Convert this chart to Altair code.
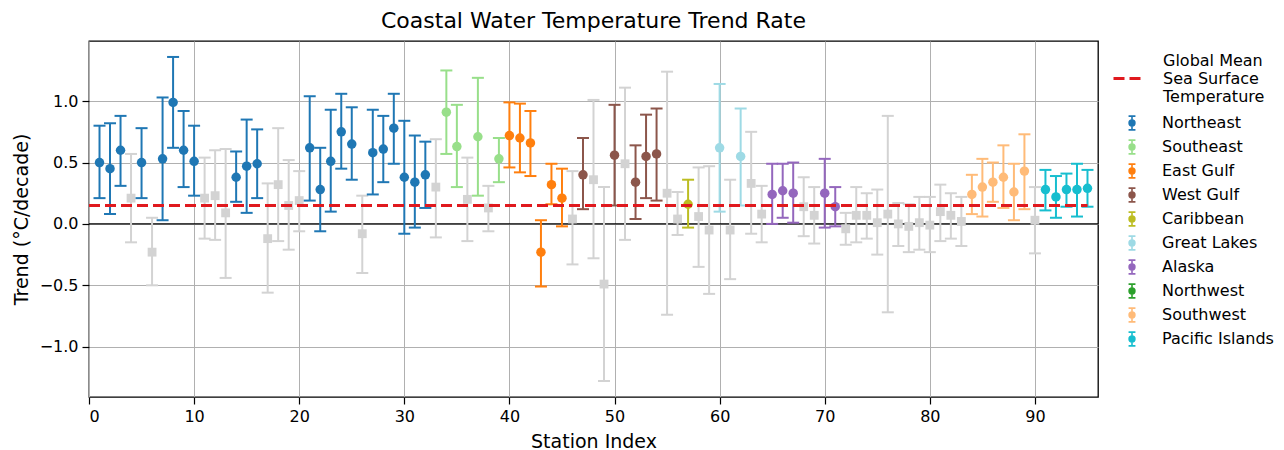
import altair as alt
import pandas as pd

# ---- data ----
stations = list(range(1, 96))
trend = [0.50, 0.45, 0.60, 0.21, 0.50, -0.23, 0.53, 0.99, 0.60, 0.51,
         0.21, 0.23, 0.09, 0.38, 0.47, 0.49, -0.12, 0.32, 0.15, 0.19,
         0.62, 0.28, 0.51, 0.75, 0.65, -0.08, 0.58, 0.61, 0.78, 0.38,
         0.34, 0.40, 0.30, 0.91, 0.63, 0.20, 0.71, 0.13, 0.53, 0.72,
         0.70, 0.66, -0.23, 0.32, 0.21, 0.04, 0.40, 0.36, -0.49, 0.56,
         0.49, 0.34, 0.55, 0.57, 0.25, 0.04, 0.16, 0.06, -0.05, 0.62,
         -0.05, 0.55, 0.33, 0.08, 0.24, 0.27, 0.25, 0.14, 0.07, 0.25,
         0.14, -0.04, 0.07, 0.07, 0.01, 0.08, 0.00, -0.02, 0.01, -0.01,
         0.10, 0.07, 0.02, 0.24, 0.30, 0.34, 0.38, 0.26, 0.43, 0.03,
         0.28, 0.22, 0.28, 0.28, 0.29]
lower = [0.21, 0.08, 0.31, -0.15, 0.21, -0.50, 0.03, 0.62, 0.30, 0.23,
         -0.12, -0.13, -0.44, 0.18, 0.09, 0.21, -0.56, -0.14, -0.21, -0.06,
         0.19, -0.06, 0.10, 0.45, 0.36, -0.40, 0.24, 0.34, 0.49, -0.08,
         -0.03, 0.13, -0.11, 0.57, 0.30, -0.14, 0.23, -0.06, 0.34, 0.46,
         0.42, 0.39, -0.51, 0.16, -0.02, -0.33, 0.12, -0.28, -1.28, 0.15,
         -0.13, 0.04, 0.21, 0.19, -0.74, -0.09, -0.03, -0.35, -0.57, 0.10,
         -0.45, 0.15, -0.08, -0.15, 0.00, 0.05, 0.01, -0.10, -0.16, -0.03,
         -0.02, -0.17, -0.15, -0.12, -0.25, -0.72, -0.18, -0.23, -0.21, -0.23,
         -0.14, -0.12, -0.18, 0.08, 0.06, 0.18, 0.13, 0.03, 0.12, -0.24,
         0.11, 0.05, 0.14, 0.06, 0.14]
upper = [0.80, 0.82, 0.88, 0.57, 0.78, 0.05, 1.03, 1.36, 0.92, 0.80,
         0.54, 0.60, 0.61, 0.59, 0.85, 0.77, 0.33, 0.78, 0.52, 0.43,
         1.04, 0.62, 0.93, 1.06, 0.95, 0.23, 0.93, 0.88, 1.06, 0.84,
         0.72, 0.67, 0.69, 1.25, 0.97, 0.54, 1.19, 0.31, 0.70, 0.99,
         0.98, 0.92, 0.03, 0.49, 0.45, 0.43, 0.70, 1.01, 0.30, 0.97,
         1.11, 0.64, 0.89, 0.94, 1.24, 0.26, 0.36, 0.46, 0.47, 1.14,
         0.36, 0.94, 0.75, 0.31, 0.49, 0.49, 0.50, 0.38, 0.30, 0.53,
         0.30, 0.09, 0.30, 0.25, 0.28, 0.88, 0.17, 0.16, 0.22, 0.22,
         0.32, 0.25, 0.22, 0.40, 0.53, 0.50, 0.64, 0.49, 0.73, 0.30,
         0.44, 0.39, 0.41, 0.49, 0.44]
NS = "n.s."
region = (["Northeast"] * 3 + [NS] + ["Northeast"] + [NS] + ["Northeast"] * 4
          + [NS] * 3 + ["Northeast"] * 3 + [NS] * 4
          + ["Northeast"] * 5 + [NS] + ["Northeast"] * 6
          + [NS] + ["Southeast"] * 2 + [NS] + ["Southeast"] + [NS] + ["Southeast"]
          + ["East Gulf"] * 6 + [NS] + ["West Gulf"] + [NS] * 2 + ["West Gulf"]
          + [NS] + ["West Gulf"] * 3 + [NS] * 2 + ["Caribbean"] + [NS] * 2
          + ["Great Lakes"] + [NS] + ["Great Lakes"] + [NS] * 2
          + ["Alaska"] * 3 + [NS] * 2 + ["Alaska"] * 2 + [NS] * 12
          + ["Southwest"] * 6 + [NS] + ["Pacific Islands"] * 5)

region_names = ["Northeast", "Southeast", "East Gulf", "West Gulf", "Caribbean",
                "Great Lakes", "Alaska", "Northwest", "Southwest", "Pacific Islands"]
region_colors = ["#1f77b4", "#98df8a", "#ff7f0e", "#8c564b", "#bcbd22",
                 "#9edae5", "#9467bd", "#2ca02c", "#ffbb78", "#17becf"]
gmsst_value = 0.15
gmsst_label = "Global Mean|Sea Surface|Temperature"
x_ticks = [0, 10, 20, 30, 40, 50, 60, 70, 80, 90]
y_ticks = [-1.0, -0.5, 0.0, 0.5, 1.0]

df = pd.DataFrame({"station": stations, "trend": trend, "lo": lower,
                   "hi": upper, "region": region})
gray_df = df[df.region == NS]
col_df = df[df.region != NS]

GRAY = "#d3d3d3"
RED = "#e0191e"
xs = alt.Scale(domain=[0, 96], nice=False, zero=False)
ys = alt.Scale(domain=[-1.41, 1.49], nice=False, zero=False)
cscale = alt.Scale(domain=region_names, range=region_colors)

X = alt.X("station:Q", scale=xs, title="Station Index",
          axis=alt.Axis(values=x_ticks, format="d"))
Ylo = alt.Y("lo:Q", scale=ys, title="Trend (°C/decade)",
            axis=alt.Axis(values=y_ticks, format=".1f"))

glyph = ("M-0.5,-1L0.5,-1M0,-1L0,1M-0.5,1L0.5,1"
         "M0.42,0A0.42,0.42,0,1,1,-0.42,0A0.42,0.42,0,1,1,0.42,0Z")
reg_legend = alt.Legend(title=None, orient="none", legendX=1035, legendY=74,
                        symbolType=glyph, symbolSize=190, symbolStrokeWidth=1.6,
                        labelFontSize=16, rowPadding=2, labelOffset=22,
                        padding=0, symbolOpacity=1)
C = alt.Color("region:N", scale=cscale, legend=reg_legend)

zero = alt.Chart(pd.DataFrame({"y": [0.0]})).mark_rule(
    color="black", strokeWidth=1.3).encode(y=alt.Y("y:Q", scale=ys))

g_bar = alt.Chart(gray_df).mark_rule(color=GRAY, strokeWidth=2).encode(
    x=X, y=Ylo, y2="hi:Q")
g_cap_lo = alt.Chart(gray_df).mark_tick(orient="horizontal", size=12, thickness=2,
                                        color=GRAY, opacity=1).encode(
    x=X, y=alt.Y("lo:Q", scale=ys))
g_cap_hi = alt.Chart(gray_df).mark_tick(orient="horizontal", size=12, thickness=2,
                                        color=GRAY, opacity=1).encode(
    x=X, y=alt.Y("hi:Q", scale=ys))
g_pt = alt.Chart(gray_df).mark_point(shape="square", filled=True, size=78,
                                     color=GRAY, opacity=1).encode(
    x=X, y=alt.Y("trend:Q", scale=ys))

c_bar = alt.Chart(col_df).mark_rule(strokeWidth=2).encode(
    x=X, y=Ylo, y2="hi:Q", color=C)
c_cap_lo = alt.Chart(col_df).mark_tick(orient="horizontal", size=12, thickness=2,
                                       opacity=1).encode(
    x=X, y=alt.Y("lo:Q", scale=ys), color=C)
c_cap_hi = alt.Chart(col_df).mark_tick(orient="horizontal", size=12, thickness=2,
                                       opacity=1).encode(
    x=X, y=alt.Y("hi:Q", scale=ys), color=C)
c_pt = alt.Chart(col_df).mark_point(shape="circle", filled=True, size=90,
                                    opacity=1).encode(
    x=X, y=alt.Y("trend:Q", scale=ys), color=C)

gm_df = pd.DataFrame({"x": [0], "x2": [95], "y": [gmsst_value], "label": [gmsst_label]})
gm = alt.Chart(gm_df).mark_rule(color=RED, strokeWidth=3).encode(
    x=alt.X("x:Q", scale=xs), x2="x2:Q", y=alt.Y("y:Q", scale=ys),
    strokeDash=alt.StrokeDash(
        "label:N", scale=alt.Scale(domain=[gmsst_label], range=[[11, 5]]),
        legend=alt.Legend(title=None, orient="none", legendX=1023, legendY=3,
                          symbolType="M-1,1.2L1,1.2", symbolSize=900,
                          symbolStrokeWidth=3, symbolStrokeColor=RED,
                          labelFontSize=16, labelOffset=18, padding=0,
                          labelExpr="split(datum.label, '|')",
                          labelLimit=300)))

chart = alt.layer(zero, g_bar, g_cap_lo, g_cap_hi, g_pt,
                  c_bar, c_cap_lo, c_cap_hi, c_pt, gm).properties(
    width=1009, height=356,
    title=alt.TitleParams("Coastal Water Temperature Trend Rate", fontSize=22,
                          fontWeight="normal", anchor="middle", frame="group",
                          offset=8, color="black"),
    padding={"left": 4, "top": 2, "right": 2, "bottom": 0},
).configure(font="DejaVu Sans").configure_view(
    stroke="black", strokeWidth=1.3
).configure_axis(
    grid=True, gridColor="#b0b0b0", gridWidth=1, domain=False,
    tickColor="black", tickSize=7, tickWidth=1.2,
    labelFontSize=16, labelColor="black", labelPadding=4,
    titleFontSize=19, titleFontWeight="normal", titleColor="black",
).configure_axisY(titlePadding=8).configure_axisX(titlePadding=8
).configure_legend(labelColor="black")

chart.save("out.html", embed_options={"renderer": "svg", "actions": False})
